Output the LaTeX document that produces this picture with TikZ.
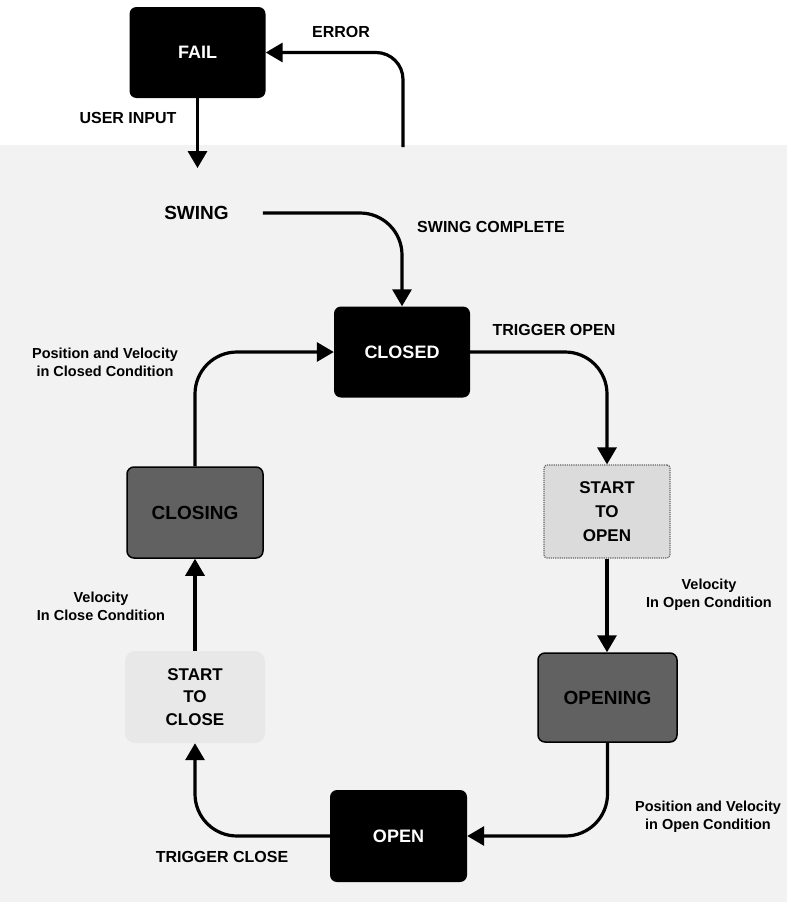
\documentclass[tikz,border=0pt]{standalone}
\usepackage{fontspec}
\setmainfont{Liberation Sans}
\usepackage{pdfrender}
\usetikzlibrary{arrows.meta}
\newcommand{\halotext}[1]{\textpdfrender{TextRenderingMode=FillStroke,LineWidth=1.1,StrokeColor=white,FillColor=black}{#1}}
\begin{document}
\begin{tikzpicture}[x=1pt,y=-1pt,
  arr/.style={line width=3.2pt,-{Triangle[length=17pt,width=19pt]}},
  bigbend/.style={rounded corners=42pt},
  statebox/.style={rounded corners=7pt,inner sep=0pt,minimum width=136pt,minimum height=91pt,
     font=\bfseries\fontsize{18}{20}\selectfont},
  darkbox/.style={statebox,fill=black,text=white},
  greybox/.style={statebox,fill=black!62,draw=black,line width=1.5pt,font=\bfseries\fontsize{19}{21}\selectfont},
  lightbox/.style={statebox,fill=black!14,draw=black!60,densely dotted,line width=1.2pt,rounded corners=3pt,
     align=center,font=\bfseries\fontsize{17}{24}\selectfont},
  paleregion/.style={statebox,fill=black!9,rounded corners=10pt,align=center,font=\bfseries\fontsize{17}{22.5}\selectfont},
  caplbl/.style={inner sep=0pt,font=\bfseries\fontsize{16}{18}\selectfont},
  smlbl/.style={inner sep=0pt,align=center,font=\bfseries\fontsize{14.5}{18.5}\selectfont}]
\useasboundingbox (0,0) rectangle (787,902);
\fill[white] (0,0) rectangle (787,902);
\fill[black!5] (0,145) rectangle (787,902);

% states
\node[darkbox] (fail) at (197.5,52.5) {FAIL};
\node[inner sep=2pt,font=\bfseries\fontsize{19}{21}\selectfont] (swing) at (196.5,213) {SWING};
\node[darkbox] (closed) at (402,352) {CLOSED};
\node[lightbox,minimum width=126pt,minimum height=93pt] (starto) at (607,511.5) {START\\TO\\OPEN};
\node[greybox,minimum width=139pt,minimum height=89pt] (opening) at (607.5,697.5) {\halotext{OPENING}};
\node[darkbox,minimum width=137pt,minimum height=92pt] (open) at (398.5,836) {OPEN};
\node[paleregion,minimum width=140pt,minimum height=92pt] (startc) at (195,697) {START\\TO\\CLOSE};
\node[greybox] (closing) at (195,512.5) {\halotext{CLOSING}};
\coordinate (errstart) at (403,147);

% connectors
\draw[arr,rounded corners=27pt] (errstart) |- (fail.east);
\draw[arr,shorten >=36pt] (fail.south) -- (fail.south |- swing.north);
\draw[arr,bigbend,shorten <=32pt] (swing.east) -| (closed.north);
\draw[arr,bigbend] (closed.east) -| (starto.north);
\draw[arr] (starto.south) -- (starto.south |- opening.north);
\draw[arr,bigbend] (opening.south) |- (open.east);
\draw[arr,bigbend] (open.west) -| (startc.south);
\draw[arr] (startc.north) -- (closing.south);
\draw[arr,bigbend] (closing.north) |- (closed.west);

% labels
\node[caplbl] (lerror) at (341,32) {ERROR};
\node[caplbl] (luser) at (128,118) {USER INPUT};
\node[caplbl] (lswc) at (491,227) {SWING COMPLETE};
\node[caplbl] (ltrigo) at (554,330) {TRIGGER OPEN};
\node[caplbl] (ltrigc) at (222,857) {TRIGGER CLOSE};
\node[smlbl] (lposc) at (105,362.5) {Position and Velocity\\in Closed Condition};
\node[smlbl] (lvelo) at (709,594.5) {Velocity\\In Open Condition};
\node[smlbl] (lvelc) at (101,606.5) {Velocity\\In Close Condition};
\node[smlbl] (lposo) at (708,816.5) {Position and Velocity\\in Open Condition};
\end{tikzpicture}
\end{document}
